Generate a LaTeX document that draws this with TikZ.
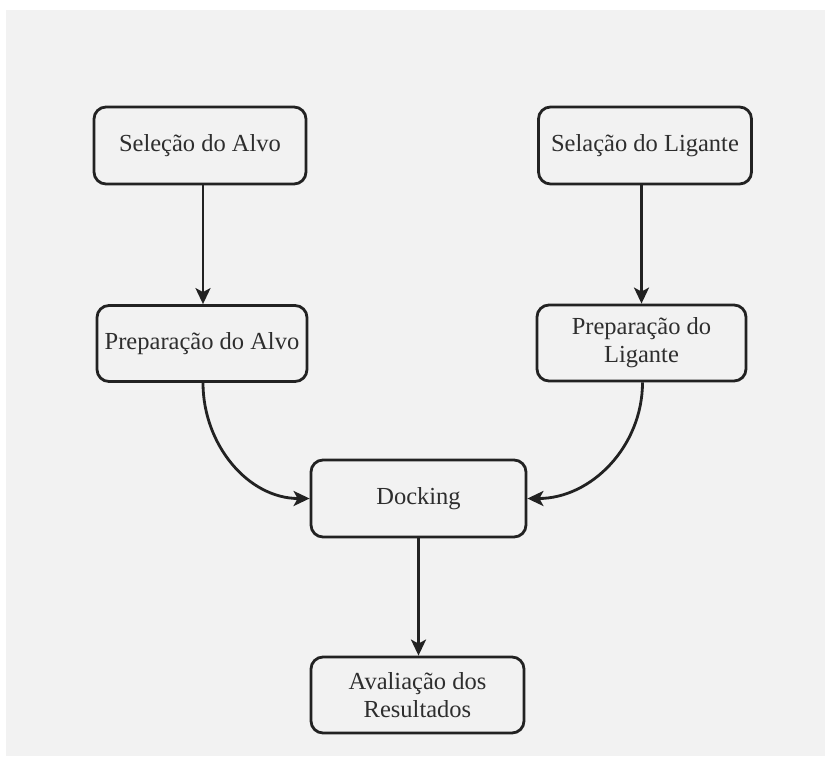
\documentclass[tikz,border=0pt]{standalone}
\usepackage{fontspec}
\setmainfont{Liberation Serif}
\usetikzlibrary{arrows.meta}
\definecolor{bg}{HTML}{F2F2F2}
\definecolor{ink}{HTML}{222222}
\definecolor{txt}{HTML}{2E2E2E}
\tikzset{
  box/.style={draw=ink, line width=2.8pt, rounded corners=12pt, fill=bg,
    minimum height=77pt, align=center, text=txt,
    font=\fontsize{24.5pt}{28pt}\selectfont, inner sep=0pt},
  conn/.style={draw=ink, line width=2.8pt,
    -{Stealth[length=16pt,width=15pt,inset=4pt]}}
}
\begin{document}
\begin{tikzpicture}[x=1pt,y=-1pt]
\useasboundingbox (0,0) rectangle (825,756);
\fill[bg] (6,10) rectangle (825,756);
\node[box, minimum width=212pt] (a1) at (200,145.5) {Seleção do Alvo};
\node[box, minimum width=213pt] (l1) at (645,145.5) {Selação do Ligante};
\node[box, minimum width=210pt, minimum height=76pt] (a2) at (202,343.5) {Preparação do Alvo};
\node[box, minimum width=209pt, minimum height=76pt] (l2) at (641.5,343) {Preparação do\\Ligante};
\node[box, minimum width=215pt] (d) at (418.5,498.5) {Docking};
\node[box, minimum width=213pt, minimum height=76pt] (r) at (417.5,695) {Avaliação dos\\Resultados};
\draw[conn] ([xshift=1pt]a2.north |- a1.south) -- ([xshift=1pt]a2.north);
\draw[conn] (l2.north |- l1.south) -- (l2.north);
\draw[conn] ([xshift=1pt]a2.south) to[out=-90,in=180] (d.west);
\draw[conn] ([xshift=1pt]l2.south) to[out=-90,in=0] (d.east);
\draw[conn] (d.south) -- (d.south |- r.north);
\end{tikzpicture}
\end{document}
